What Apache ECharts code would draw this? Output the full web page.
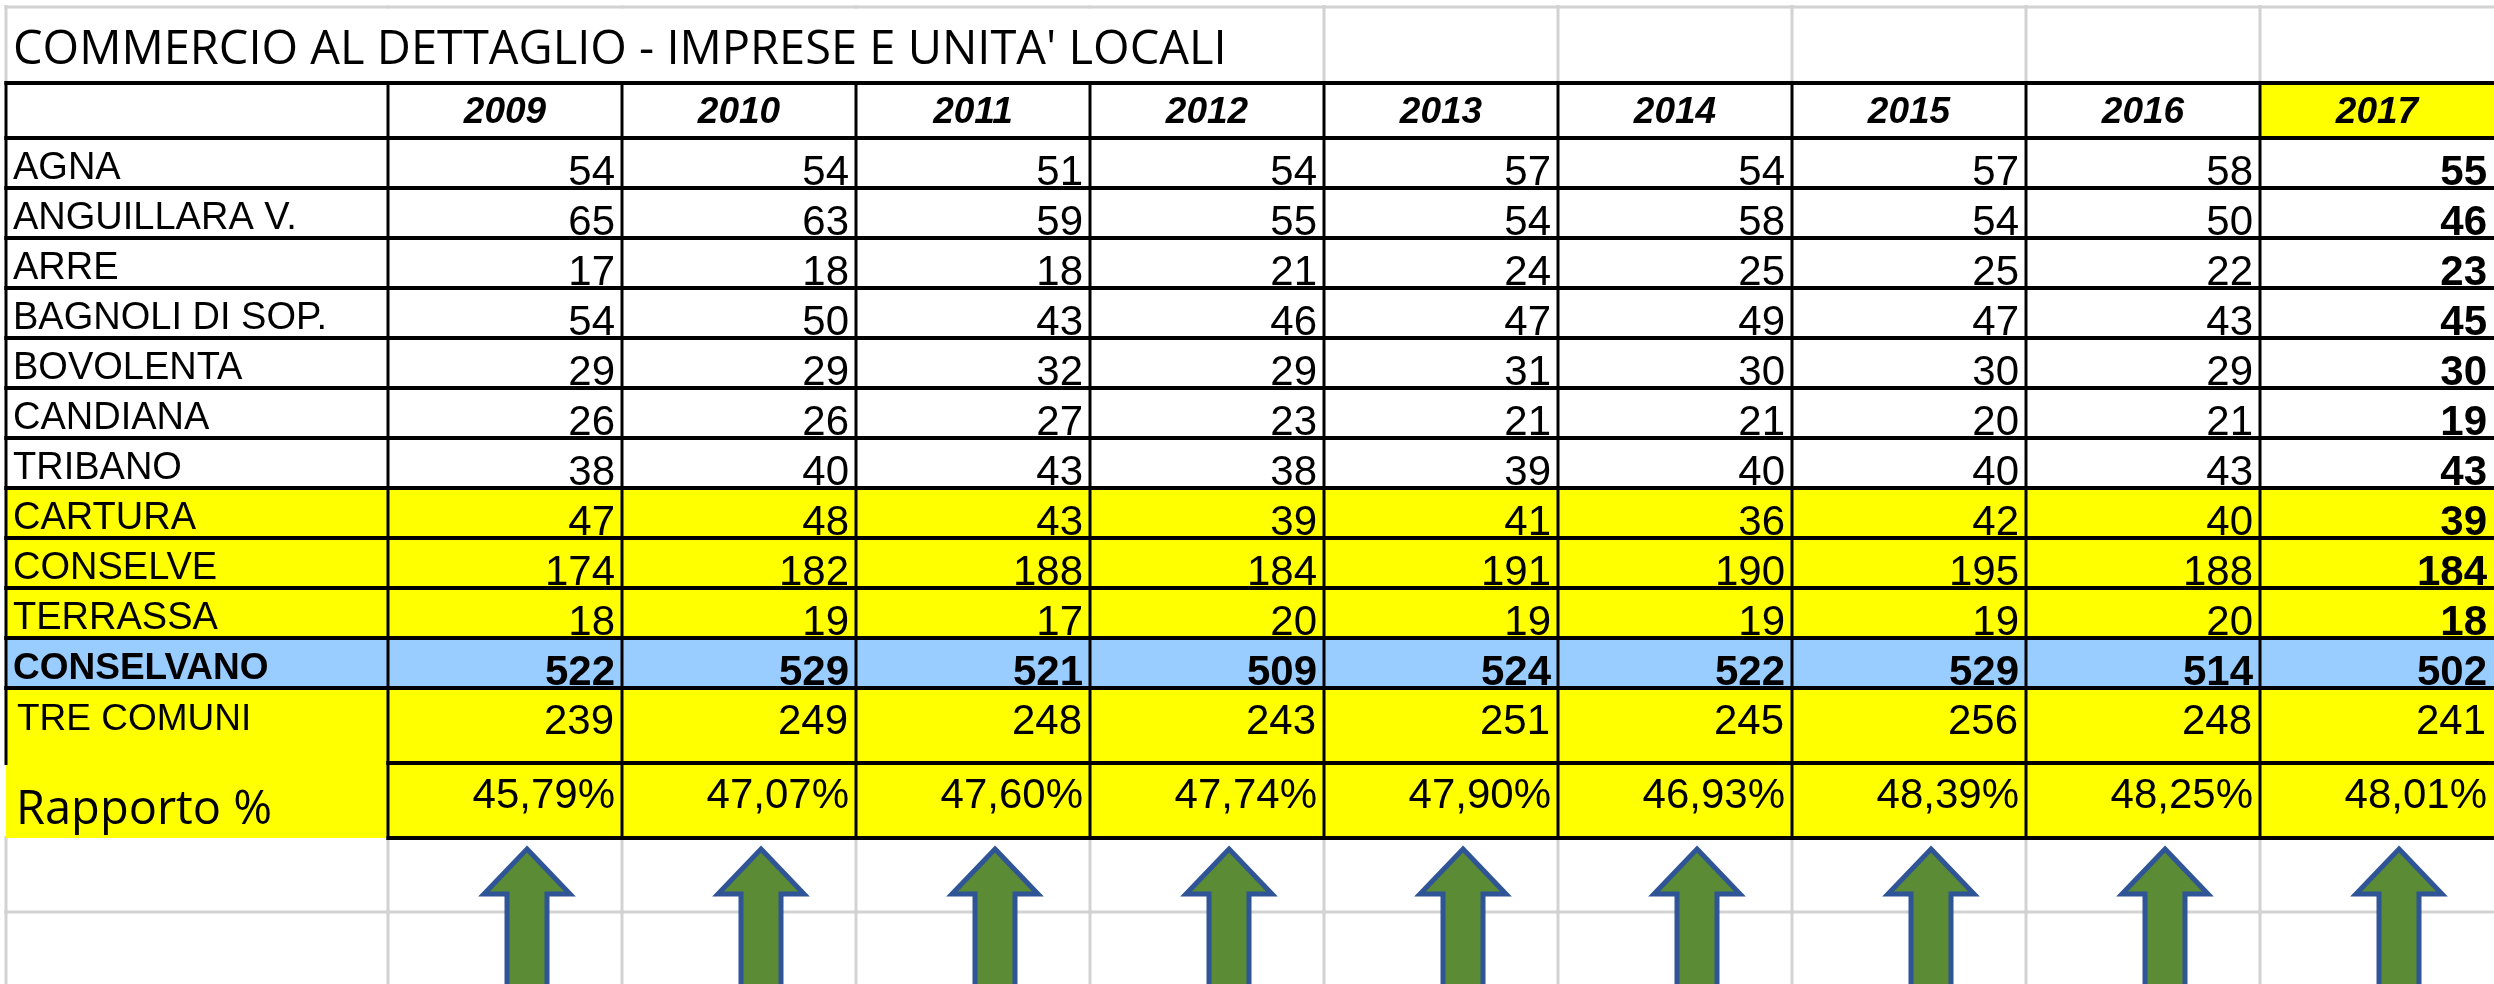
<!DOCTYPE html>
<html>
<head>
<meta charset="utf-8">
<script src="https://cdn.jsdelivr.net/npm/echarts@6/dist/echarts.min.js"></script>
<style>
html,body{margin:0;padding:0;background:#fff;}
#c{width:2494px;height:984px;}
</style>
</head>
<body>
<div id="c"></div>
<script>
// ---------------- DATA ----------------
const titleText = "COMMERCIO AL DETTAGLIO - IMPRESE E UNITA' LOCALI";
const years = ['2009','2010','2011','2012','2013','2014','2015','2016','2017'];
const places = ['AGNA','ANGUILLARA V.','ARRE','BAGNOLI DI SOP.','BOVOLENTA','CANDIANA','TRIBANO','CARTURA','CONSELVE','TERRASSA','CONSELVANO'];
const agna       = [54, 54, 51, 54, 57, 54, 57, 58, 55];
const anguillara = [65, 63, 59, 55, 54, 58, 54, 50, 46];
const arre       = [17, 18, 18, 21, 24, 25, 25, 22, 23];
const bagnoli    = [54, 50, 43, 46, 47, 49, 47, 43, 45];
const bovolenta  = [29, 29, 32, 29, 31, 30, 30, 29, 30];
const candiana   = [26, 26, 27, 23, 21, 21, 20, 21, 19];
const tribano    = [38, 40, 43, 38, 39, 40, 40, 43, 43];
const cartura    = [47, 48, 43, 39, 41, 36, 42, 40, 39];
const conselve   = [174, 182, 188, 184, 191, 190, 195, 188, 184];
const terrassa   = [18, 19, 17, 20, 19, 19, 19, 20, 18];
const conselvano = [522, 529, 521, 509, 524, 522, 529, 514, 502];
const bottomLabels = ['TRE COMUNI', 'Rapporto %'];
const treComuni  = [239, 249, 248, 243, 251, 245, 256, 248, 241];
const rapporto   = [45.79, 47.07, 47.60, 47.74, 47.90, 46.93, 48.39, 48.25, 48.01];

const bodyValues = [agna, anguillara, arre, bagnoli, bovolenta, candiana, tribano, cartura, conselve, terrassa, conselvano];

// ---------------- STYLE / LAYOUT ----------------
const X0 = 6, XL = 388, XR = 2494;
const YELLOW = '#FFFF00', BLUE = '#99CCFF';
const BH = ['#000', 4], BV = ['#000', 3], GR = ['#D2D2D2', 3];
const F_ARIAL = '"Liberation Sans", Arial, sans-serif';
const F_CAL = '"Open Sans", sans-serif';
const yellowRows = [7, 8, 9], blueRow = 10, boldCol = 8;

const grids = [], xAxes = [], yAxes = [], series = [];

function addGrid(left, top, width, height, xCats, yCats) {
  const i = grids.length;
  grids.push({left, top, width, height, containLabel: false, outerBoundsMode: 'none'});
  xAxes.push({type: 'category', gridIndex: i, data: xCats, show: false, boundaryGap: true});
  yAxes.push({type: 'category', gridIndex: i, data: yCats, show: false, inverse: true, boundaryGap: true});
  return i;
}

function cellBox(api) {
  const ctr = api.coord([api.value(0), api.value(1)]);
  const sz = api.size([1, 1]);
  return {x: ctr[0] - sz[0] / 2, y: ctr[1] - sz[1] / 2, w: sz[0], h: sz[1], cx: ctr[0]};
}

function addCells(gi, cells, borderZ) {
  const data = cells.map(c => [c.col, c.row]);
  series.push({
    type: 'custom', xAxisIndex: gi, yAxisIndex: gi, z: 2, silent: true, data,
    renderItem(params, api) {
      const m = cells[params.dataIndex];
      const b = cellBox(api);
      const ch = [];
      if (m.fill) ch.push({type: 'rect', shape: {x: b.x, y: b.y, width: b.w, height: b.h}, style: {fill: m.fill}});
      if (m.text != null) {
        const tx = m.align === 'left' ? b.x + m.pad : (m.align === 'right' ? b.x + b.w - m.pad : b.x + b.w / 2);
        ch.push({type: 'text', style: {
          text: m.text, x: tx, y: b.y + b.h * m.ty, align: m.align, verticalAlign: 'middle',
          fontSize: m.size, fontFamily: m.family || F_ARIAL, fontWeight: m.weight || 'normal',
          fontStyle: m.style || 'normal', fill: '#000'
        }});
      }
      return {type: 'group', children: ch};
    }
  });
  series.push({
    type: 'custom', xAxisIndex: gi, yAxisIndex: gi, z: borderZ, silent: true, data,
    renderItem(params, api) {
      const m = cells[params.dataIndex];
      const b = cellBox(api);
      const ch = [];
      const br = m.b || {};
      const hl = (yy, s) => ch.push({type: 'line', shape: {x1: b.x - 1.5, y1: yy, x2: b.x + b.w + 1.5, y2: yy}, style: {stroke: s[0], lineWidth: s[1]}});
      const vl = (xx, s) => ch.push({type: 'line', shape: {x1: xx, y1: b.y - 2, x2: xx, y2: b.y + b.h + 2}, style: {stroke: s[0], lineWidth: s[1]}});
      if (br.t) hl(b.y, br.t);
      if (br.b) hl(b.y + b.h, br.b);
      if (br.l) vl(b.x, br.l);
      if (br.r) vl(b.x + b.w, br.r);
      return {type: 'group', children: ch};
    }
  });
}

// Title row (gridlines only)
const g0 = addGrid(X0, 7, XL - X0, 76, [''], ['']);
addCells(g0, [{col: 0, row: 0, b: {t: GR, l: GR}}], 1);
const g1 = addGrid(XL, 7, XR - XL, 76, years, ['']);
addCells(g1, years.map((y, c) => ({col: c, row: 0, b: {t: GR, r: (c >= 3 && c < 8) ? GR : null}})), 1);

// Header row
const g2 = addGrid(X0, 83, XL - X0, 55, [''], ['']);
addCells(g2, [{col: 0, row: 0, b: {t: BH, l: BV, b: BH}}], 3);
const g3 = addGrid(XL, 83, XR - XL, 55, years, ['']);
addCells(g3, years.map((y, c) => ({
  col: c, row: 0, fill: c === boldCol ? YELLOW : null, text: y, size: 37, weight: 'bold', style: 'italic',
  align: 'center', ty: 0.54, b: {t: BH, l: BV, b: BH}
})), 3);

// Body rows
function rowFill(r) { return r === blueRow ? BLUE : (yellowRows.indexOf(r) >= 0 ? YELLOW : null); }
const g4 = addGrid(X0, 138, XL - X0, 550, [''], places);
addCells(g4, places.map((p, r) => ({
  col: 0, row: r, fill: rowFill(r), text: p, size: r === blueRow ? 37 : 38, weight: r === blueRow ? 'bold' : 'normal',
  align: 'left', pad: 7, ty: 0.62, b: {l: BV, b: BH}
})), 3);
const g5 = addGrid(XL, 138, XR - XL, 550, years, places);
const bodyCells = [];
bodyValues.forEach((vals, r) => vals.forEach((v, c) => bodyCells.push({
  col: c, row: r, fill: rowFill(r), text: String(v), size: 42,
  weight: (r === blueRow || c === boldCol) ? 'bold' : 'normal',
  align: 'right', pad: 7, ty: 0.7, b: {l: BV, b: BH}
})));
addCells(g5, bodyCells, 3);

// Bottom rows (TRE COMUNI, Rapporto %)
const g6 = addGrid(X0, 688, XL - X0, 150, [''], bottomLabels);
addCells(g6, [
  {col: 0, row: 0, fill: YELLOW, text: bottomLabels[0], size: 37, align: 'left', pad: 11, ty: 0.42, b: {l: BV}},
  {col: 0, row: 1, fill: YELLOW, text: bottomLabels[1], size: 47, family: F_CAL, align: 'left', pad: 10, ty: 0.63, b: {}}
], 3);
const g7 = addGrid(XL, 688, XR - XL, 150, years, bottomLabels);
const botCells = [];
treComuni.forEach((v, c) => botCells.push({col: c, row: 0, fill: YELLOW, text: String(v), size: 42, align: 'right', pad: 8, ty: 0.46, b: {l: BV, b: BH}}));
rapporto.forEach((v, c) => botCells.push({col: c, row: 1, fill: YELLOW, text: v.toFixed(2).replace('.', ',') + '%', size: 42, align: 'right', pad: 7, ty: 0.44, b: {l: BV, b: BH}}));
addCells(g7, botCells, 3);

// Below the table: sheet gridlines + arrows
const g8 = addGrid(X0, 838, XL - X0, 148, [''], ['', '']);
addCells(g8, [{col: 0, row: 0, b: {l: GR, b: GR}}, {col: 0, row: 1, b: {l: GR}}], 1);
const g9 = addGrid(XL, 838, XR - XL, 148, years, ['', '']);
const belowCells = [];
years.forEach((y, c) => { belowCells.push({col: c, row: 0, b: {l: GR, b: GR}}); belowCells.push({col: c, row: 1, b: {l: GR}}); });
addCells(g9, belowCells, 1);

// Arrows, one per year column
series.push({
  type: 'custom', xAxisIndex: g9, yAxisIndex: g9, z: 5, silent: true,
  data: years.map((y, c) => [c, 0]),
  renderItem(params, api) {
    const b = cellBox(api);
    const cx = b.cx + 22, top = b.y + 11, headH = 45, headHalf = 43, shaftHalf = 20, bottom = b.y + b.h * 2 + 20;
    return {
      type: 'polygon',
      shape: {points: [[cx, top], [cx + headHalf, top + headH], [cx + shaftHalf, top + headH], [cx + shaftHalf, bottom],
                       [cx - shaftHalf, bottom], [cx - shaftHalf, top + headH], [cx - headHalf, top + headH]]},
      style: {fill: '#5B8B34', stroke: '#2F5597', lineWidth: 5, lineJoin: 'miter'}
    };
  }
});

const chart = echarts.init(document.getElementById('c'), null, {renderer: 'canvas', width: 2494, height: 984});
chart.setOption({
  backgroundColor: '#fff',
  animation: false,
  title: {
    text: titleText, left: 13, top: 27, padding: 0,
    textStyle: {fontFamily: F_CAL, fontSize: 47, fontWeight: 'normal', color: '#000', lineHeight: 47}
  },
  grid: grids, xAxis: xAxes, yAxis: yAxes, series
});
</script>
</body>
</html>
